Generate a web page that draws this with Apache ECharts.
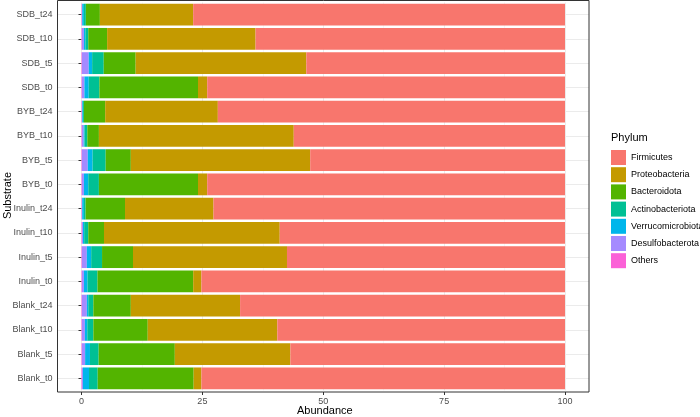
<!DOCTYPE html>
<html>
<head>
<meta charset="utf-8">
<script src="https://cdn.jsdelivr.net/npm/echarts@6/dist/echarts.min.js"></script>
<style>
  html, body { margin: 0; padding: 0; background: #fff; }
  #chart { width: 700px; height: 417px; }
</style>
</head>
<body>
<div id="chart"></div>
<script>
// categories bottom -> top
const substrates = ['Blank_t0', 'Blank_t5', 'Blank_t10', 'Blank_t24',
    'Inulin_t0', 'Inulin_t5', 'Inulin_t10', 'Inulin_t24',
    'BYB_t0', 'BYB_t5', 'BYB_t10', 'BYB_t24',
    'SDB_t0', 'SDB_t5', 'SDB_t10', 'SDB_t24'];

// relative abundance (%) per phylum, same order as substrates
const others            = [0.1, 0.1, 0.1, 0.1, 0.1, 0.1, 0.1, 0.1, 0.1, 0.1, 0.1, 0.1, 0.1, 0.1, 0.1, 0.1];
const desulfobacterota  = [0.2, 0.65, 0.6, 1.0, 0.4, 1.0, 0.2, 0.05, 0.4, 1.2, 0.35, 0.05, 0.5, 1.4, 0.4, 0.05];
const verrucomicrobiota = [1.25, 1.0, 0.5, 0.3, 0.75, 0.9, 0.25, 0.35, 0.9, 1.0, 0.2, 0.15, 0.9, 0.7, 0.3, 0.35];
const actinobacteriota  = [1.8, 1.8, 1.25, 1.05, 2.05, 2.25, 0.85, 0.35, 2.2, 2.7, 0.55, 0.2, 2.2, 2.4, 0.6, 0.4];
const bacteroidota      = [19.85, 15.75, 11.25, 7.75, 19.8, 6.4, 3.25, 8.15, 20.5, 5.2, 2.4, 4.4, 20.4, 6.6, 3.9, 2.9];
const proteobacteria    = [1.6, 23.9, 26.8, 22.6, 1.7, 31.85, 36.35, 18.3, 1.9, 37.1, 40.3, 23.3, 1.9, 35.3, 30.7, 19.3];
const firmicutes        = [75.2, 56.8, 59.5, 67.2, 75.2, 57.5, 59.0, 72.7, 74.0, 52.7, 56.1, 71.8, 74.0, 53.5, 64.0, 76.9];

const xTicks = [0, 25, 50, 75, 100];

const phyla = [
    { name: 'Others', data: others, color: '#FB61D7' },
    { name: 'Desulfobacterota', data: desulfobacterota, color: '#A58AFF' },
    { name: 'Verrucomicrobiota', data: verrucomicrobiota, color: '#00B6EB' },
    { name: 'Actinobacteriota', data: actinobacteriota, color: '#00C094' },
    { name: 'Bacteroidota', data: bacteroidota, color: '#53B400' },
    { name: 'Proteobacteria', data: proteobacteria, color: '#C49A00' },
    { name: 'Firmicutes', data: firmicutes, color: '#F8766D' }
];

const font = '"Liberation Sans", Arial, sans-serif';
const chart = echarts.init(document.getElementById('chart'));

const option = {
    animation: false,
    textStyle: { fontFamily: font },
    title: {
        text: 'Phylum',
        left: 606,
        top: 127,
        textStyle: { fontSize: 11, fontWeight: 'normal', color: '#000', fontFamily: font }
    },
    legend: {
        orient: 'vertical',
        left: 606,
        top: 145,
        icon: 'rect',
        itemWidth: 15,
        itemHeight: 15,
        itemGap: 2.2,
        data: phyla.slice().reverse().map(p => p.name),
        textStyle: { fontSize: 9, color: '#000', fontFamily: font }
    },
    grid: [
        // bars area (0..100)
        { left: 81.5, right: 135, top: 2.5, bottom: 26.5 },
        // full panel (-5..105) for horizontal grid lines
        { left: 57.5, right: 111, top: 2.5, bottom: 26.5 }
    ],
    xAxis: [
        {
            type: 'value',
            gridIndex: 0,
            min: xTicks[0],
            max: xTicks[xTicks.length - 1],
            interval: 25,
            offset: 1.5,
            axisLine: { show: false },
            axisTick: { show: true, length: 3, lineStyle: { color: '#333' } },
            axisLabel: { fontSize: 9, color: '#4D4D4D', margin: 5 },
            splitLine: { show: true, lineStyle: { color: '#EBEBEB', width: 1 } },
            minorTick: { show: false, splitNumber: 2 },
            minorSplitLine: { show: true, lineStyle: { color: '#F2F2F2', width: 0.6 } }
        },
        {
            type: 'value',
            gridIndex: 1,
            min: -5,
            max: 105,
            show: false
        }
    ],
    yAxis: [
        {
            type: 'category',
            gridIndex: 0,
            data: substrates,
            offset: 24,
            axisLine: { show: false },
            axisTick: { show: true, length: 3, alignWithLabel: true, lineStyle: { color: '#333' } },
            axisLabel: { fontSize: 9, color: '#4D4D4D', margin: 5 },
            splitLine: { show: false }
        },
        {
            type: 'category',
            gridIndex: 1,
            data: substrates,
            axisLine: { show: false },
            axisTick: { show: false },
            axisLabel: { show: false },
            splitLine: { show: true, alignWithLabel: true, lineStyle: { color: '#EBEBEB', width: 1 } }
        }
    ],
    graphic: [
        {
            type: 'rect',
            shape: { x: 57.5, y: 0.5, width: 531.5, height: 391.5 },
            style: { fill: null, stroke: '#333', lineWidth: 1 },
            z: 100
        },
        {
            type: 'text',
            left: 297,
            top: 405,
            style: { text: 'Abundance', fontSize: 11, fill: '#000', font: '11px ' + font }
        },
        {
            type: 'text',
            left: 2,
            top: 172,
            rotation: Math.PI / 2,
            style: { text: 'Substrate', fontSize: 11, fill: '#000', font: '11px ' + font }
        }
    ],
    series: phyla.map(p => ({
        name: p.name,
        type: 'bar',
        stack: 'total',
        xAxisIndex: 0,
        yAxisIndex: 0,
        barCategoryGap: '10%',
        itemStyle: { color: p.color },
        data: p.data
    }))
};

chart.setOption(option);
</script>
</body>
</html>
